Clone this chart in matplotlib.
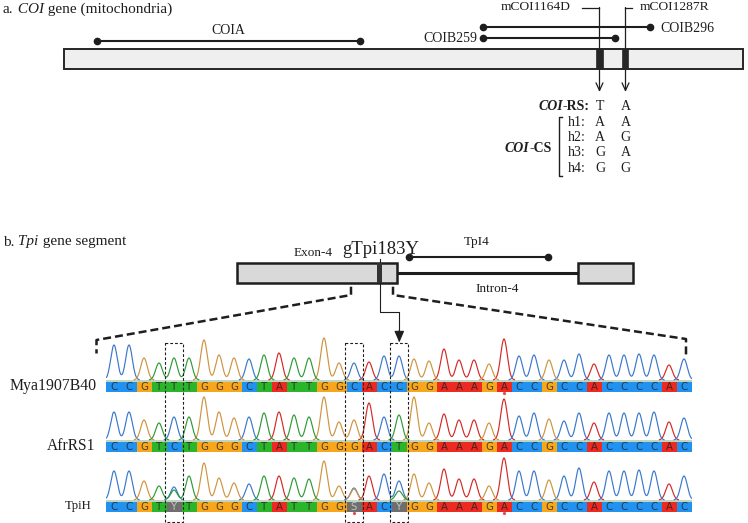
import numpy as np
import matplotlib
matplotlib.use('Agg')
import matplotlib.pyplot as plt
from matplotlib.patches import Rectangle

# ---------------- data ----------------
seq_names = ["Mya1907B40", "AfrRS1", "TpiH"]
seq_mya = "CCGTTTGGGCTATTGGCACCGGAAAGACCGCCACCCCAC"
seq_afr = "CCGTCTGGGCTATTGGGACTGGAAAGACCGCCACCCCAC"
seq_tpih = "CCGTYTGGGCTATTGGSACYGGAAAGACCGCCACCCCAC"

# peak heights (px above baseline) of the called base at each position
peaks_mya = [35, 35, 22, 17, 22, 22, 40, 25, 22, 21, 25, 27, 22, 22, 42, 17, 17, 18, 24, 24,
             21, 19, 31, 20, 20, 16, 41, 24, 25, 20, 20, 26, 16, 25, 25, 26, 25, 15, 21]
peaks_afr = [28, 28, 20, 17, 23, 23, 43, 28, 22, 23, 27, 28, 25, 23, 43, 18, 20, 37, 23, 25,
             43, 17, 26, 20, 20, 17, 41, 24, 27, 21, 19, 27, 17, 27, 27, 27, 28, 18, 22]
peaks_tpih = [29, 29, 19, 14, 13, 24, 37, 22, 17, 16, 24, 24, 22, 21, 39, 14, 12, 24, 26, 19,
              26, 17, 31, 21, 21, 14, 42, 29, 29, 20, 24, 32, 18, 29, 29, 30, 29, 16, 24]
# secondary peaks at heterozygous sites of TpiH: (position, base, height)
minor_tpih = [(4, "T", 10), (16, "G", 11), (19, "T", 9)]
iupac = {"Y": "C", "S": "C"}
highlight_sites = [4, 16, 19]
quality_marks = [(0, 26), (2, 16), (2, 26)]

coi_rs = ["T", "A"]
haplotypes = ["h1:", "h2:", "h3:", "h4:"]
snp_1164 = ["A", "A", "G", "G"]
snp_1287 = ["A", "G", "A", "G"]

# ---------------- style ----------------
W, H = 748, 523
serif = "Liberation Serif"
cell_col = {"A": "#ec2a22", "C": "#2192f0", "G": "#f8a61c", "T": "#2bb52b",
            "Y": "#6e6e6e", "S": "#6e6e6e"}
trace_col = {"A": "#d42a26", "C": "#3a78cc", "G": "#cf9440", "T": "#2f9a36"}
dark = "#1e1e1e"

fig = plt.figure(figsize=(W / 100, H / 100), dpi=100)
fig.patch.set_facecolor("white")

# ---------------- chromatogram rows ----------------
x0_px, step_px = 114.0, 15.0
nb = len(seq_mya)
left_px = x0_px - step_px / 2
baselines = [380, 440, 500]
ylo, yhi = -13.0, 47.0
rows = [(seq_mya, peaks_mya, []), (seq_afr, peaks_afr, []), (seq_tpih, peaks_tpih, minor_tpih)]
sigma = 0.22
xs = np.linspace(-0.5, nb - 0.5, 3000)

for r, (seq, pk, minor) in enumerate(rows):
    b = baselines[r]
    ax = fig.add_axes([left_px / W, 1 - (b - ylo) / H, nb * step_px / W, (yhi - ylo) / H])
    ax.set_xlim(-0.5, nb - 0.5)
    ax.set_ylim(ylo, yhi)
    ax.axis("off")
    ax.patch.set_visible(False)
    # traces
    chans = {c: np.zeros_like(xs) for c in "ACGT"}
    for i, (base, h) in enumerate(zip(seq, pk)):
        c = iupac.get(base, base)
        chans[c] += h * np.exp(-(xs - i) ** 2 / (2 * sigma ** 2))
    for (i, c, h) in minor:
        chans[c] += h * np.exp(-(xs - i) ** 2 / (2 * sigma ** 2))
    ax.axhline(-0.6, color="#b4cdb4", lw=1.2, zorder=1)
    for c in "ACGT":
        y = chans[c].copy()
        y[y < 0.25] = np.nan
        ax.plot(xs, y, color=trace_col[c], lw=0.85, zorder=2)
    # base call strip
    for i, base in enumerate(seq):
        ax.add_patch(Rectangle((i - 0.5, -11.8), 1.0, 10.2, fc=cell_col[base], ec="none", zorder=3))
        tc = "#d8d8d8" if base in "YS" else "#202020"
        ax.text(i, -6.9, base, ha="center", va="center", fontsize=7.3,
                family="DejaVu Sans", color=tc, alpha=0.8, zorder=4)
    for (rr, i) in quality_marks:
        if rr == r:
            ax.plot(i, -13, "o", ms=1.3, color="#e05050", zorder=4, clip_on=False)

# ---------------- overlay (diagram) ----------------
ov = fig.add_axes([0, 0, 1, 1])
ov.set_xlim(0, W)
ov.set_ylim(H, 0)
ov.axis("off")
ov.patch.set_visible(False)


def chain(first, parts, **kw):
    prev = first
    for txt, extra in parts:
        prev = ov.annotate(txt, xy=(1, 0), xycoords=prev, ha="left", va="bottom", **kw, **extra)
    return prev


# part a title
t = ov.text(3, 9.5, "a.", ha="left", va="center", fontsize=11, family=serif, color=dark)
chain(t, [(" COI", {"style": "italic"}), (" gene (mitochondria)", {})],
      fontsize=11, family=serif, color=dark)

# COI gene bar
ov.add_patch(Rectangle((64, 49), 679, 19.5, fc="#efefef", ec="#262626", lw=1.4, zorder=3))
ov.add_patch(Rectangle((596, 49), 7, 19.5, fc="#262626", ec="#262626", lw=0.5, zorder=4))
ov.add_patch(Rectangle((622, 49), 6.5, 19.5, fc="#262626", ec="#262626", lw=0.5, zorder=4))

# amplicons
def amplicon(xa, xb, y):
    ov.plot([xa, xb], [y, y], color=dark, lw=1.5, zorder=2, solid_capstyle="butt")
    ov.plot([xa, xb], [y, y], "o", color=dark, ms=4.5, zorder=2)

amplicon(97, 360, 40.5)
ov.text(228, 30, "COIA", ha="center", va="center", fontsize=10, family=serif, color=dark)
amplicon(483, 650, 27.3)
ov.text(660, 28.5, "COIB296", ha="left", va="center", fontsize=10, family=serif, color=dark)
amplicon(483, 615, 37.5)
ov.text(477, 38.5, "COIB259", ha="right", va="center", fontsize=10, family=serif, color=dark)

# SNP primers with arrows
aprops = dict(arrowstyle="->,head_length=0.55,head_width=0.25", lw=0.9, color=dark,
              shrinkA=0, shrinkB=0)
ov.plot([582, 599.5], [7.5, 7.5], color=dark, lw=0.9, zorder=1)
ov.annotate("", xy=(599.5, 92), xytext=(599.5, 7.5), arrowprops=aprops, zorder=1)
ov.text(571, 7.5, "mCOI1164D", ha="right", va="center", fontsize=9.7, family=serif, color=dark)
ov.plot([632, 625.5], [7.5, 7.5], color=dark, lw=0.9, zorder=1)
ov.annotate("", xy=(625.5, 92), xytext=(625.5, 7.5), arrowprops=aprops, zorder=1)
ov.text(640, 7.5, "mCOI1287R", ha="left", va="center", fontsize=9.7, family=serif, color=dark)

# haplotype table
col_x = [600, 625.5]
rs_y = 106.5
t = ov.text(590, rs_y, "-RS:", ha="right", va="center", fontsize=10, family=serif,
            weight="bold", color=dark)
ov.annotate("COI", xy=(0, 0), xycoords=t, ha="right", va="bottom", fontsize=10, family=serif,
            weight="bold", style="italic", color=dark)
for cx, v in zip(col_x, coi_rs):
    ov.text(cx, rs_y, v, ha="center", va="center", fontsize=10, family=serif, color=dark)
for k, (hn, a1, a2) in enumerate(zip(haplotypes, snp_1164, snp_1287)):
    yy = 122 + 15.5 * k
    ov.text(568, yy, hn, ha="left", va="center", fontsize=10, family=serif, color=dark)
    ov.text(col_x[0], yy, a1, ha="center", va="center", fontsize=10, family=serif, color=dark)
    ov.text(col_x[1], yy, a2, ha="center", va="center", fontsize=10, family=serif, color=dark)
ov.plot([562.5, 559.3, 559.3, 562.5], [116.7, 116.7, 176, 176], color=dark, lw=1.0)
t = ov.text(552, 149, "-CS", ha="right", va="center", fontsize=10, family=serif,
            weight="bold", color=dark)
ov.annotate("COI", xy=(0, 0), xycoords=t, ha="right", va="bottom", fontsize=10, family=serif,
            weight="bold", style="italic", color=dark)

# part b title
t = ov.text(3, 242, "b.", ha="left", va="center", fontsize=11, family=serif, color=dark)
chain(t, [(" Tpi", {"style": "italic"}), (" gene segment", {})],
      fontsize=11, family=serif, color=dark)

# Tpi gene structure
ov.add_patch(Rectangle((237, 263), 160, 20, fc="#d9d9d9", ec="#1e1e1e", lw=1.8, zorder=3))
ov.add_patch(Rectangle((377.3, 263), 4.4, 20, fc="#333333", ec="none", zorder=4))
ov.plot([397, 578], [273, 273], color=dark, lw=2.2, zorder=2)
ov.add_patch(Rectangle((578, 263), 55, 20, fc="#d9d9d9", ec="#1e1e1e", lw=1.8, zorder=3))
ov.text(313, 253, "Exon-4", ha="center", va="center", fontsize=9.5, family=serif, color=dark)
ov.text(497, 289, "Intron-4", ha="center", va="center", fontsize=9.5, family=serif, color=dark)
amplicon(409, 548, 257)
ov.text(477, 242, "TpI4", ha="center", va="center", fontsize=9.5, family=serif, color=dark)

# gTpi183Y pointer
ov.text(381, 250, "gTpi183Y", ha="center", va="center", fontsize=13.5, family=serif, color=dark)
ov.plot([380, 380, 399.3, 399.3], [259, 311.7, 311.7, 334], color=dark, lw=0.8, zorder=2)
ov.annotate("", xy=(399.3, 342.5), xytext=(399.3, 330),
            arrowprops=dict(arrowstyle="-|>,head_length=0.7,head_width=0.3", lw=0.8,
                            color=dark, fc=dark, shrinkA=0, shrinkB=0), zorder=5)

# dashed zoom lines
ov.plot([351, 351, 96.5, 96.5], [286.7, 295, 340, 353.5], color=dark, lw=1.8,
        dashes=(3.2, 1.6), zorder=2)
ov.plot([393, 393, 686, 686], [286.7, 295, 339, 354.5], color=dark, lw=1.8,
        dashes=(3.2, 1.6), zorder=2)

# dashed boxes around polymorphic sites
for i in highlight_sites:
    cx = x0_px + step_px * i
    ov.add_patch(Rectangle((cx - 9.2, 342.5), 18.4, 179.5, fc="none", ec=dark, lw=0.8,
                           ls=(0, (2.5, 1.8)), zorder=6))

# row labels
label_pos = [(97, 386.5, 11.4), (95, 446.5, 11.2), (92, 506.5, 9.2)]
for name, (lx, ly, fs) in zip(seq_names, label_pos):
    ov.text(lx, ly, name, ha="right", va="center", fontsize=fs, family=serif, color=dark)

fig.savefig("out.png", dpi=100)
